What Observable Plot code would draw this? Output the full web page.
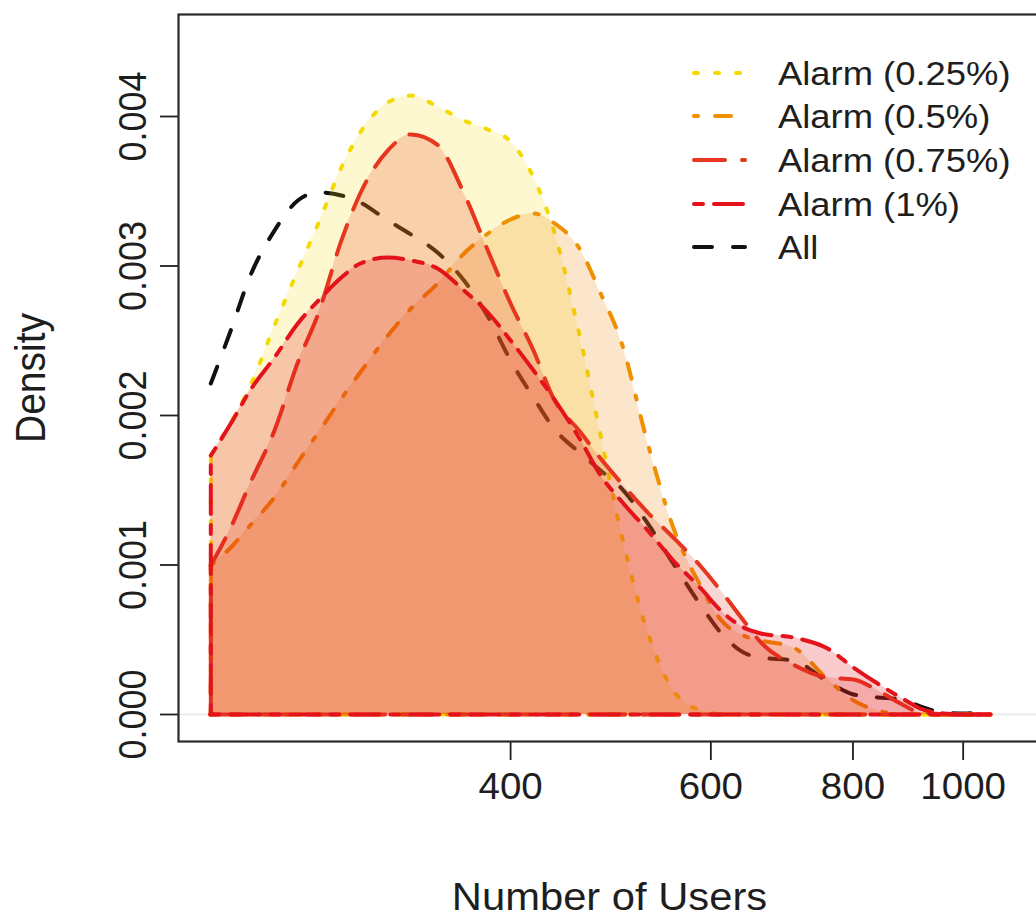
<!DOCTYPE html>
<html>
<head>
<meta charset="utf-8">
<script src="https://cdn.jsdelivr.net/npm/d3@7"></script>
<script src="https://cdn.jsdelivr.net/npm/@observablehq/plot@0.6"></script>
<style>
  html, body { margin: 0; padding: 0; background: #fff; overflow: hidden; }
  #wrap { position: relative; width: 1036px; height: 919px; overflow: hidden; }
  #legend { position: absolute; left: 690px; top: 51px; font-family: "Liberation Sans", Arial, Helvetica, sans-serif; color: #1e1e1e; }
  #legend .row { display: flex; align-items: center; height: 43.6px; }
  #legend svg { display: block; }
  #legend span { display: inline-block; margin-left: 30px; font-size: 34px; line-height: 1; transform: scaleX(1.07); transform-origin: left center; white-space: nowrap; }
</style>
</head>
<body>
<div id="wrap"></div>
<script>
// Shared evaluation grid (number of users) for every density estimate
const users = [218, 227, 236, 248, 260, 271, 284, 295, 312, 327, 345, 364, 382, 400, 419, 436, 461, 480, 500, 528, 556, 588, 612, 641, 664, 709, 760, 801, 841, 881, 917, 961, 1001, 1057];

// Density estimates per alarm threshold
const alarm025 = [0.001732, 0.001953, 0.002194, 0.002602, 0.002970, 0.003284, 0.003659, 0.003893, 0.004094, 0.004140, 0.004067, 0.003973, 0.003913, 0.003833, 0.003592, 0.003251, 0.002502, 0.001866, 0.001224, 0.000548, 0.000161, 0.000027, 0.000003, 0, 0, 0, 0, 0, 0, 0, 0, 0, 0, 0];
const alarm05 = [0.000997, 0.001117, 0.001264, 0.001452, 0.001686, 0.001886, 0.002114, 0.002288, 0.002535, 0.002716, 0.002883, 0.003084, 0.003217, 0.003311, 0.003351, 0.003291, 0.003104, 0.002816, 0.002502, 0.001813, 0.001251, 0.000856, 0.000635, 0.000528, 0.000495, 0.000448, 0.000234, 0.000094, 0.000027, 0.000003, 0, 0, 0, 0];
const alarm075 = [0.000997, 0.001251, 0.001545, 0.001900, 0.002355, 0.002682, 0.003171, 0.003485, 0.003773, 0.003880, 0.003810, 0.003485, 0.003104, 0.002749, 0.002435, 0.002120, 0.001886, 0.001712, 0.001552, 0.001351, 0.001184, 0.000990, 0.000829, 0.000629, 0.000482, 0.000334, 0.000247, 0.000234, 0.000161, 0.000074, 0.000013, 0.000003, 0, 0];
const alarm1 = [0.001732, 0.001946, 0.002167, 0.002388, 0.002615, 0.002769, 0.002923, 0.003017, 0.003057, 0.003037, 0.002983, 0.002836, 0.002689, 0.002502, 0.002301, 0.002120, 0.001833, 0.001599, 0.001431, 0.001231, 0.001030, 0.000843, 0.000696, 0.000582, 0.000542, 0.000515, 0.000441, 0.000314, 0.000207, 0.000114, 0.000040, 0.000007, 0, 0];
const allUsers = [0.002214, 0.002569, 0.002930, 0.003237, 0.003438, 0.003492, 0.003472, 0.003425, 0.003304, 0.003211, 0.003090, 0.002903, 0.002662, 0.002368, 0.002120, 0.001920, 0.001746, 0.001632, 0.001518, 0.001278, 0.001010, 0.000729, 0.000548, 0.000415, 0.000381, 0.000361, 0.000221, 0.000134, 0.000114, 0.000100, 0.000054, 0.000013, 0.000007, 0.000020];

// Series labels and styling
const seriesNames = ["Alarm (0.25%)", "Alarm (0.5%)", "Alarm (0.75%)", "Alarm (1%)", "All"];
const seriesColors = ["#f4da00", "#f09000", "#e6361e", "#e3121b", "#111111"];
const seriesFills = ["#f4da00", "#f08c10", "#e6361e", "#e3121b"];
const seriesDash = ["4,17", "4,17,16,17", "31,17", "9,11,29,11", "18,21"];
const seriesFillOpacity = [0.19, 0.22, 0.2, 0.22];

// Axis ticks
const xTicks = [400, 600, 800, 1000];
const yTicks = [0, 0.001, 0.002, 0.003, 0.004];

const fontFamily = '"Liberation Sans", Arial, Helvetica, sans-serif';
const lineWidth = 4;
const rowsOf = vals => users.map((u, i) => ({users: u, density: vals[i]}));
const alarms = [alarm025, alarm05, alarm075, alarm1];

const marks = [
  Plot.ruleY([0], {stroke: "#ececec", strokeWidth: 2})
];

// Overall curve sits underneath the shaded alarm densities
marks.push(Plot.line(rowsOf(allUsers), {
  x: "users", y: "density", curve: "monotone-x",
  stroke: seriesColors[4], strokeWidth: lineWidth, strokeDasharray: seriesDash[4], strokeLinecap: "round"
}));

alarms.forEach((vals, i) => {
  const rows = rowsOf(vals);
  const style = {stroke: seriesColors[i], strokeWidth: lineWidth, strokeDasharray: seriesDash[i], strokeLinecap: "round"};
  marks.push(Plot.areaY(rows, {x: "users", y: "density", curve: "monotone-x", fill: seriesFills[i], fillOpacity: seriesFillOpacity[i]}));
  // polygon outline: base, left edge and the density curve
  marks.push(Plot.ruleY([{y: 0, x1: users[0], x2: users[users.length - 1]}], {y: "y", x1: "x1", x2: "x2", ...style}));
  marks.push(Plot.ruleX([{x: users[0], y1: 0, y2: vals[0]}], {x: "x", y1: "y1", y2: "y2", ...style}));
  marks.push(Plot.line(rows, {x: "users", y: "density", curve: "monotone-x", ...style}));
});

marks.push(
  Plot.axisX({ticks: xTicks, tickFormat: d => `${d}`, tickSize: 19, tickPadding: 13, fontSize: 36, label: null, strokeWidth: 1.8}),
  Plot.axisY({ticks: yTicks, tickFormat: () => "", tickSize: 18, label: null, strokeWidth: 1.8}),
  Plot.text(yTicks, {y: d => d, text: d => d3.format(".3f")(d), frameAnchor: "left", dx: -45, rotate: -90, textAnchor: "middle", lineAnchor: "middle", fontSize: 36}),
  Plot.text(["Number of Users"], {frameAnchor: "bottom", dy: 156, textAnchor: "middle", lineAnchor: "middle", fontSize: 39}),
  Plot.text(["Density"], {frameAnchor: "left", dx: -147, rotate: -90, textAnchor: "middle", lineAnchor: "middle", fontSize: 39}),
  Plot.frame({stroke: "#2a2a2a", strokeWidth: 2.2})
);

const chart = Plot.plot({
  width: 1040,
  height: 919,
  marginLeft: 178,
  marginRight: 0,
  marginTop: 14,
  marginBottom: 178,
  x: {type: "log", domain: [204.2, 1169.5]},
  y: {domain: [-0.0001806, 0.0046823]},
  style: {fontFamily, color: "#1e1e1e", background: "#fff", maxWidth: "none", overflow: "visible"},
  marks
});

// Glyphs are drawn slightly wider than tall
const K = 1.07;
chart.querySelectorAll("text").forEach(t => {
  const x0 = parseFloat(t.getAttribute("x")) || 0;
  const tr = t.getAttribute("transform") || "";
  const m = tr.match(/^\s*(translate\([^)]*\))(.*)$/);
  if (m) t.setAttribute("transform", `${m[1]} translate(${x0},0) scale(${K},1) translate(${-x0},0)${m[2]}`);
  else t.setAttribute("transform", `translate(${x0},0) scale(${K},1) translate(${-x0},0) ${tr}`);
});

const wrap = document.getElementById("wrap");
wrap.appendChild(chart);

// Legend drawn over the upper right of the plotting region
const legend = document.createElement("div");
legend.id = "legend";
seriesNames.forEach((name, i) => {
  const row = document.createElement("div");
  row.className = "row";
  const sw = d3.create("svg").attr("width", 58).attr("height", 12);
  sw.append("line").attr("x1", 4).attr("x2", 55).attr("y1", 6).attr("y2", 6)
    .attr("stroke", seriesColors[i]).attr("stroke-width", lineWidth)
    .attr("stroke-dasharray", seriesDash[i]).attr("stroke-linecap", "round");
  row.appendChild(sw.node());
  const label = document.createElement("span");
  label.textContent = name;
  row.appendChild(label);
  legend.appendChild(row);
});
wrap.appendChild(legend);
</script>
</body>
</html>
